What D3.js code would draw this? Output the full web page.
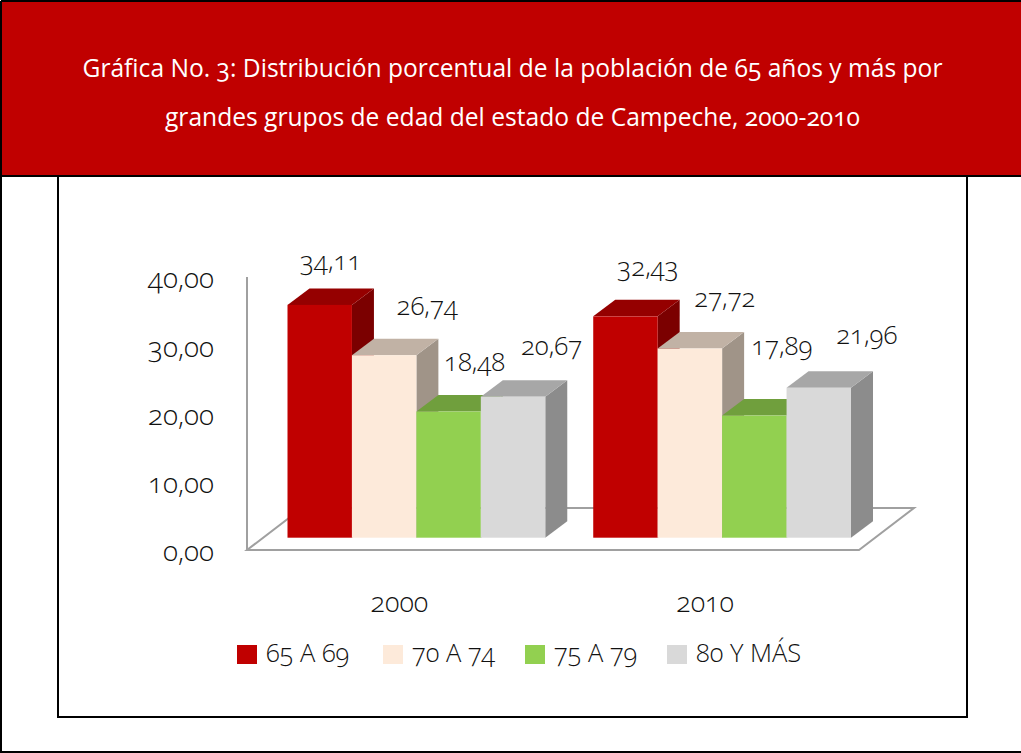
<!DOCTYPE html>
<html><head><meta charset="utf-8">
<script src="https://cdn.jsdelivr.net/npm/d3@7"></script>
<style>
html,body{margin:0;padding:0;background:#fff;overflow:hidden}
text{font-family:"Open Sans",sans-serif;font-variant-numeric:oldstyle-nums;font-feature-settings:"onum" 1;}
</style></head><body><svg id="c" width="1021" height="753"></svg>
<script>
const titleLines=["Gráfica No. 3: Distribución porcentual de la población de 65 años y más por","grandes grupos de edad del estado de Campeche, 2000-2010"];
const years=["2000","2010"];
const groups=["65 A 69","70 A 74","75 A 79","80 Y MÁS"];
const values2000=[34.11,26.74,18.48,20.67];
const values2010=[32.43,27.72,17.89,21.96];
const yTicks=[0,10,20,30,40];
const faceColors=["#c00000","#fdeada","#92d050","#d9d9d9"];
const topColors=["#950000","#c1b2a5","#709f3d","#a7a7a7"];
const sideColors=["#7b0000","#a09488","#5f8733","#8c8c8c"];
// hand-placed label nudges from the bar top centre (dx, dy)
const labelNudge2000=[[11,-35],[43,-40.5],[26,-40.5],[38.5,-41.7]];
const labelNudge2010=[[22.5,-40],[35,-42],[27.5,-60.7],[48,-43.8]];
const legendX=[237,383,525,667];

const fmt=v=>d3.format(".2f")(v).replace(".",",");
const svg=d3.select("#c");
const W=1021,H=753,ink="#111";
svg.append("rect").attr("width",W).attr("height",H).attr("fill","#fff");
svg.append("rect").attr("x",58).attr("y",176).attr("width",909).attr("height",541).attr("fill","#fff").attr("stroke","#000").attr("stroke-width",2);
svg.append("rect").attr("x",2).attr("y",2).attr("width",W-2).attr("height",174).attr("fill","#c00000");
[[1,W,1,1],[1,1,1,H],[1,W,176,176],[1,W,752,752]].forEach(c=>
  svg.append("line").attr("x1",c[0]).attr("x2",c[1]).attr("y1",c[2]).attr("y2",c[3]).attr("stroke","#000").attr("stroke-width",2));
svg.selectAll(".t").data(titleLines).join("text").attr("x",512.5).attr("y",(d,i)=>77+i*49).attr("text-anchor","middle").attr("fill","#fff").attr("font-size",24.6).text(d=>d);

const y=d3.scaleLinear().domain([0,40]).range([550,277]);
const x0=d3.scaleBand().domain(years).range([287.5,851]).paddingInner(48/306);
const x1=d3.scaleBand().domain(groups).range([0,x0.bandwidth()]);
const depthX=22,depthY=16.5,baseLift=12.3;

svg.append("path").attr("d","M247 550L302 508L914 508L859 550Z").attr("fill","none").attr("stroke","#a0a0a0").attr("stroke-width",2);
svg.append("line").attr("x1",247).attr("x2",247).attr("y1",y(40)).attr("y2",y(0)).attr("stroke","#a0a0a0").attr("stroke-width",2);

const axis=d3.axisLeft(y).tickValues(yTicks).tickSize(0).tickPadding(0).tickFormat(fmt);
const ag=svg.append("g").attr("transform","translate(214,2)").call(axis);
ag.select(".domain").remove();
ag.selectAll("text").attr("font-size",28).attr("font-weight",300).attr("fill",ink).style("font-family",'"Open Sans",sans-serif');

const rows=[values2000,values2010],nudges=[labelNudge2000,labelNudge2010];
years.forEach((yr,r)=>{
  const g=svg.append("g");
  rows[r].forEach((v,i)=>{
    const l=x0(yr)+x1(groups[i]),w=x1.bandwidth(),t=y(v)-baseLift,b=y(0)-baseLift;
    const p=(pts,c)=>g.append("polygon").attr("points",pts.map(q=>q.join(",")).join(" ")).attr("fill",c);
    p([[l+w,t],[l+w+depthX,t-depthY],[l+w+depthX,b-depthY],[l+w,b]],sideColors[i]);
    p([[l,t],[l+depthX,t-depthY],[l+w+depthX,t-depthY],[l+w,t]],topColors[i]);
    g.append("rect").attr("x",l).attr("y",t).attr("width",w).attr("height",b-t).attr("fill",faceColors[i]);
  });
  rows[r].forEach((v,i)=>{
    const l=x0(yr)+x1(groups[i]),w=x1.bandwidth(),t=y(v)-baseLift;
    g.append("text").attr("x",l+w/2+nudges[r][i][0]).attr("y",t+nudges[r][i][1]).attr("text-anchor","middle").attr("font-size",26).attr("font-weight",300).attr("fill",ink).text(fmt(v));
  });
  svg.append("text").attr("x",x0(yr)+x0.bandwidth()/2-17).attr("y",612).attr("text-anchor","middle").attr("font-size",27).attr("font-weight",300).attr("fill",ink).text(yr);
});

groups.forEach((d,i)=>{
  svg.append("rect").attr("x",legendX[i]).attr("y",645).attr("width",20).attr("height",19).attr("fill",faceColors[i]);
  svg.append("text").attr("x",legendX[i]+29).attr("y",662).attr("font-size",25.5).attr("font-weight",300).attr("fill",ink).text(d);
});
</script></body></html>
